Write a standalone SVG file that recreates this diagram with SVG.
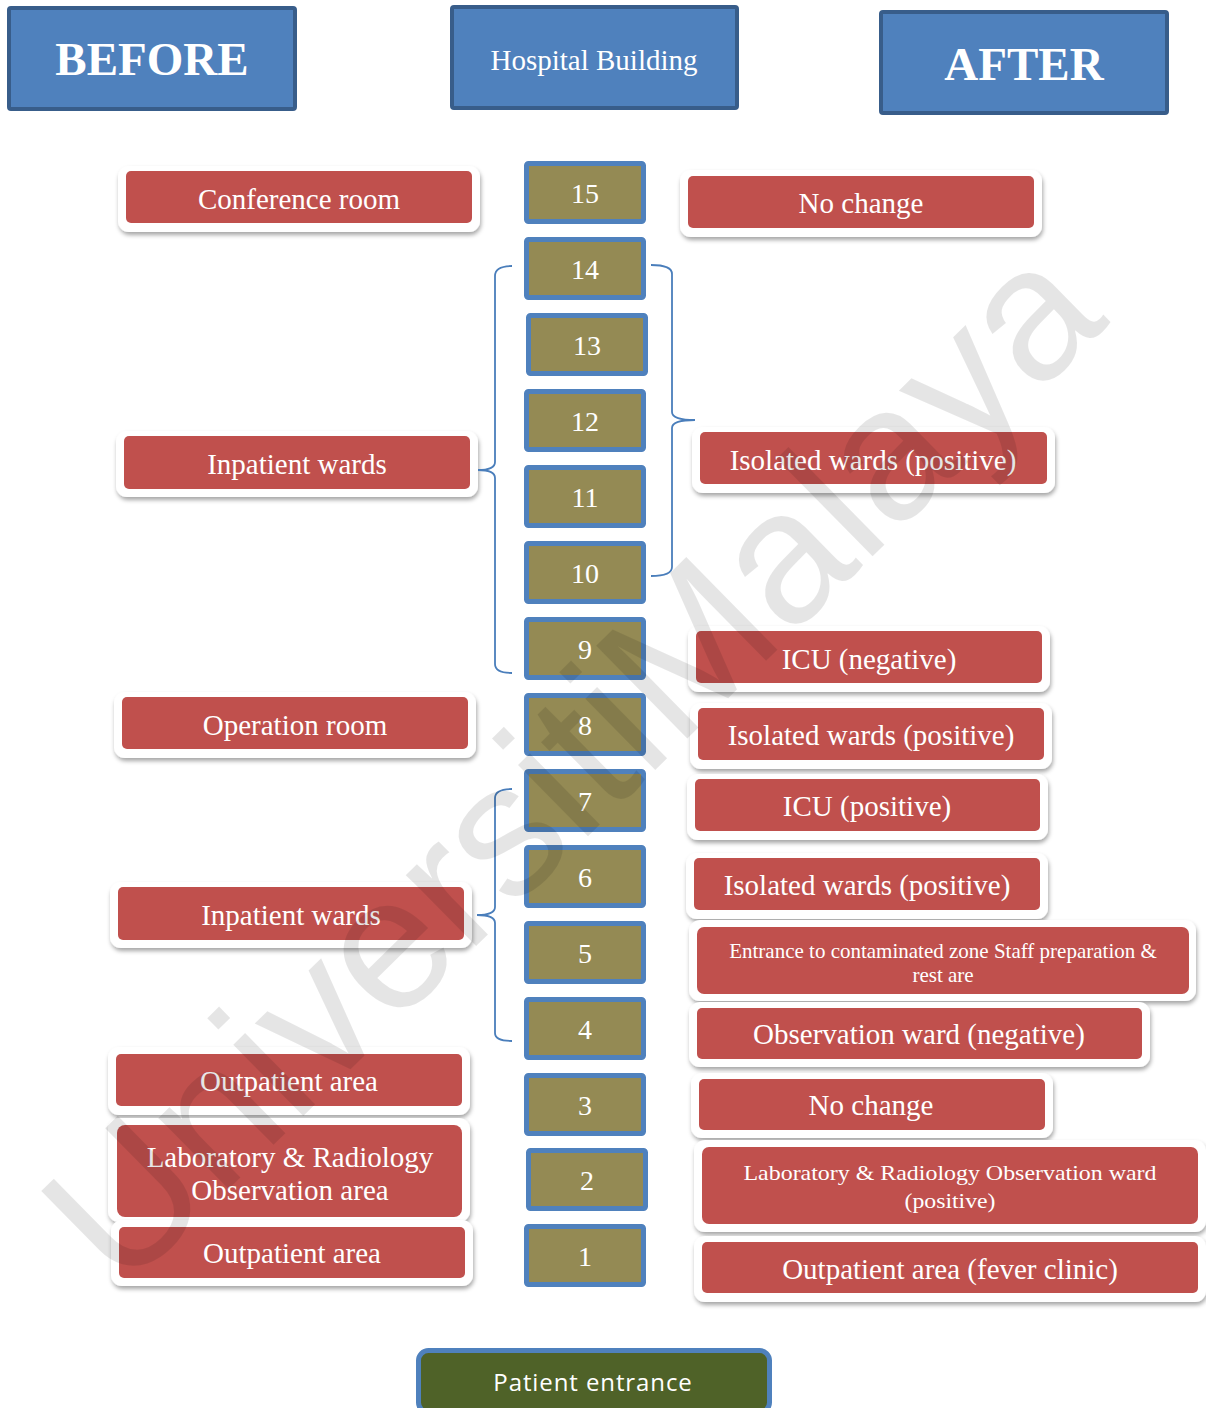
<svg xmlns="http://www.w3.org/2000/svg" width="1206" height="1408" viewBox="0 0 1206 1408">
<defs>
<filter id="sh" x="-10%" y="-20%" width="120%" height="150%">
<feDropShadow dx="1" dy="3" stdDeviation="2.2" flood-color="#000" flood-opacity="0.35"/>
</filter>
</defs>
<style>
.hdr{fill:#4f81bd;stroke:#385d8a;stroke-width:4}
.ht{fill:#fff;font-family:"Liberation Serif",serif;text-anchor:middle}
.fl{fill:#948a54;stroke:#4f81bd;stroke-width:5}
.fn{fill:#fff;font-family:"Liberation Serif",serif;font-size:28px;text-anchor:middle}
.fr{fill:#fff;filter:url(#sh)}
.rd{fill:#c0504d}
.rt{fill:#fff;font-family:"Liberation Serif",serif;font-size:29px;text-anchor:middle}
.rs{fill:#fff;font-family:"Liberation Serif",serif;font-size:21px;text-anchor:middle}
.br{fill:none;stroke:#4a7ebb;stroke-width:1.8}
</style>
<rect width="1206" height="1408" fill="#fff"/>

<g id="before"><rect class="hdr" x="9" y="8" width="286" height="101" rx="2"/><text class="ht" x="152" y="75" font-size="47" font-weight="bold">BEFORE</text></g>
<g id="hospital"><rect class="hdr" x="452" y="7" width="285" height="101" rx="2"/><text class="ht" x="594" y="70" font-size="29">Hospital Building</text></g>
<g id="after"><rect class="hdr" x="881" y="12" width="286" height="101" rx="2"/><text class="ht" x="1024" y="80" font-size="47" font-weight="bold">AFTER</text></g>

<g id="floor15"><rect class="fl" x="526.5" y="163.5" width="117" height="58" rx="2"/><text class="fn" x="585" y="203">15</text></g>
<g id="floor14"><rect class="fl" x="526.5" y="239.5" width="117" height="58" rx="2"/><text class="fn" x="585" y="279">14</text></g>
<g id="floor13"><rect class="fl" x="528.5" y="315.5" width="117" height="58" rx="2"/><text class="fn" x="587" y="355">13</text></g>
<g id="floor12"><rect class="fl" x="526.5" y="391.5" width="117" height="58" rx="2"/><text class="fn" x="585" y="431">12</text></g>
<g id="floor11"><rect class="fl" x="526.5" y="467.5" width="117" height="58" rx="2"/><text class="fn" x="585" y="507">11</text></g>
<g id="floor10"><rect class="fl" x="526.5" y="543.5" width="117" height="58" rx="2"/><text class="fn" x="585" y="583">10</text></g>
<g id="floor9"><rect class="fl" x="526.5" y="619.5" width="117" height="58" rx="2"/><text class="fn" x="585" y="659">9</text></g>
<g id="floor8"><rect class="fl" x="526.5" y="695.5" width="117" height="58" rx="2"/><text class="fn" x="585" y="735">8</text></g>
<g id="floor7"><rect class="fl" x="526.5" y="771.5" width="117" height="58" rx="2"/><text class="fn" x="585" y="811">7</text></g>
<g id="floor6"><rect class="fl" x="526.5" y="847.5" width="117" height="58" rx="2"/><text class="fn" x="585" y="887">6</text></g>
<g id="floor5"><rect class="fl" x="526.5" y="923.5" width="117" height="58" rx="2"/><text class="fn" x="585" y="963">5</text></g>
<g id="floor4"><rect class="fl" x="526.5" y="999.5" width="117" height="58" rx="2"/><text class="fn" x="585" y="1039">4</text></g>
<g id="floor3"><rect class="fl" x="526.5" y="1075.5" width="117" height="58" rx="2"/><text class="fn" x="585" y="1115">3</text></g>
<g id="floor2"><rect class="fl" x="528.5" y="1150.5" width="117" height="58" rx="2"/><text class="fn" x="587" y="1190">2</text></g>
<g id="floor1"><rect class="fl" x="526.5" y="1226.5" width="117" height="58" rx="2"/><text class="fn" x="585" y="1266">1</text></g>

<g id="conference"><rect class="fr" x="118" y="166" width="362" height="66" rx="11"/><rect class="rd" x="126" y="171" width="346" height="52" rx="5"/><text class="rt" x="299" y="209">Conference room</text></g>
<g id="inpatient-upper"><rect class="fr" x="116" y="431" width="362" height="66" rx="11"/><rect class="rd" x="124" y="436" width="346" height="53" rx="5"/><text class="rt" x="297" y="474">Inpatient wards</text></g>
<g id="operation"><rect class="fr" x="114" y="692" width="362" height="66" rx="11"/><rect class="rd" x="122" y="697" width="346" height="52" rx="5"/><text class="rt" x="295" y="735">Operation room</text></g>
<g id="inpatient-lower"><rect class="fr" x="110" y="882" width="362" height="66" rx="11"/><rect class="rd" x="118" y="887" width="346" height="53" rx="5"/><text class="rt" x="291" y="925">Inpatient wards</text></g>
<g id="outpatient-3"><rect class="fr" x="108" y="1047" width="362" height="68" rx="11"/><rect class="rd" x="116" y="1054" width="346" height="52" rx="5"/><text class="rt" x="289" y="1091">Outpatient area</text></g>
<g id="lab-before"><rect class="fr" x="108" y="1118" width="362" height="104" rx="11"/><rect class="rd" x="117" y="1125" width="345" height="92" rx="8"/><text class="rt" x="290" y="1167">Laboratory &amp; Radiology</text><text class="rt" x="290" y="1200">Observation area</text></g>
<g id="outpatient-1"><rect class="fr" x="111" y="1220" width="362" height="66" rx="11"/><rect class="rd" x="119" y="1227" width="346" height="51" rx="5"/><text class="rt" x="292" y="1263">Outpatient area</text></g>

<g id="nochange-top"><rect class="fr" x="680" y="170" width="362" height="67" rx="11"/><rect class="rd" x="688" y="176" width="346" height="52" rx="5"/><text class="rt" x="861" y="213">No change</text></g>
<g id="isolated-upper"><rect class="fr" x="692" y="427" width="363" height="66" rx="11"/><rect class="rd" x="700" y="432" width="347" height="52" rx="5"/><text class="rt" x="873" y="470">Isolated wards (positive)</text></g>
<g id="icu-negative"><rect class="fr" x="688" y="626" width="362" height="66" rx="11"/><rect class="rd" x="696" y="631" width="346" height="52" rx="5"/><text class="rt" x="869" y="669">ICU (negative)</text></g>
<g id="isolated-8"><rect class="fr" x="690" y="703" width="362" height="66" rx="11"/><rect class="rd" x="698" y="708" width="346" height="52" rx="5"/><text class="rt" x="871" y="745">Isolated wards (positive)</text></g>
<g id="icu-positive"><rect class="fr" x="687" y="774" width="361" height="66" rx="11"/><rect class="rd" x="695" y="779" width="345" height="52" rx="5"/><text class="rt" x="867" y="816">ICU (positive)</text></g>
<g id="isolated-6"><rect class="fr" x="686" y="853" width="362" height="66" rx="11"/><rect class="rd" x="694" y="858" width="346" height="52" rx="5"/><text class="rt" x="867" y="895">Isolated wards (positive)</text></g>
<g id="entrance-zone"><rect class="fr" x="689" y="920" width="507" height="81" rx="11"/><rect class="rd" x="697" y="927" width="492" height="67" rx="7"/><text class="rs" x="943" y="958">Entrance to contaminated zone Staff preparation &amp;</text><text class="rs" x="943" y="982">rest are</text></g>
<g id="observation-negative"><rect class="fr" x="689" y="1002" width="461" height="65" rx="11"/><rect class="rd" x="697" y="1008" width="445" height="51" rx="5"/><text class="rt" x="919" y="1044">Observation ward (negative)</text></g>
<g id="nochange-3"><rect class="fr" x="691" y="1073" width="362" height="65" rx="11"/><rect class="rd" x="699" y="1079" width="346" height="51" rx="5"/><text class="rt" x="871" y="1115">No change</text></g>
<g id="lab-after"><rect class="fr" x="694" y="1140" width="512" height="92" rx="11"/><rect class="rd" x="702" y="1147" width="496" height="77" rx="7"/><text class="rs" x="950" y="1180" font-size="25" textLength="413" lengthAdjust="spacingAndGlyphs">Laboratory &amp; Radiology Observation ward</text><text class="rs" x="950" y="1208" font-size="25" textLength="91" lengthAdjust="spacingAndGlyphs">(positive)</text></g>
<g id="fever-clinic"><rect class="fr" x="694" y="1236" width="512" height="66" rx="11"/><rect class="rd" x="702" y="1242" width="496" height="51" rx="5"/><text class="rt" x="950" y="1279">Outpatient area (fever clinic)</text></g>

<g id="patient-entrance"><rect x="418.5" y="1350.5" width="351" height="62" rx="10" fill="#4f6228" stroke="#4f81bd" stroke-width="5"/><text x="593" y="1391" fill="#fff" font-family="'Open Sans','Noto Sans',sans-serif" font-size="24" text-anchor="middle" letter-spacing="0.9">Patient entrance</text></g>

<g id="connectors">
<path class="br" d="M512,266 Q495,266 495,276 L495,462 Q495,470 478,470 Q495,470 495,478 L495,664 Q495,673 512,673"/>
<path class="br" d="M651,265 Q672,265 672,274 L672,412 Q672,420 695,420 Q672,420 672,428 L672,567 Q672,576 651,576"/>
<path class="br" d="M512,789 Q495,789 495,798 L495,907 Q495,915 477,915 Q495,915 495,923 L495,1033 Q495,1041 512,1041"/>
</g>

<text x="122" y="1294" transform="rotate(-44.5 122 1294)" fill="#000" fill-opacity="0.1" font-family="'Liberation Sans',Arial,sans-serif" font-size="189">UniversitiMalaya</text>
</svg>
